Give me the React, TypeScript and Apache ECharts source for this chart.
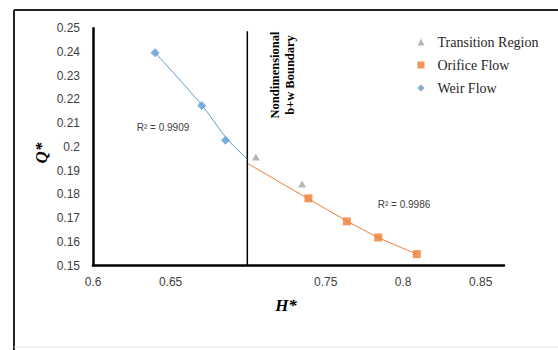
import React, { useEffect, useRef } from "react";
import * as echarts from "echarts";

const weirH = [0.64, 0.6701, 0.6854];
const weirQ = [0.2397, 0.2175, 0.2028];
const transH = [0.705, 0.7348];
const transQ = [0.1957, 0.1844];
const orificeH = [0.7389, 0.7637, 0.7839, 0.8088];
const orificeQ = [0.1783, 0.1686, 0.1618, 0.1548];
const weirTrendH = [0.64, 0.6701, 0.686, 0.6995];
const weirTrendQ = [0.2397, 0.2177, 0.2037, 0.1949];
const orificeTrendH = [0.6995, 0.7389, 0.7637, 0.7839, 0.8088];
const orificeTrendQ = [0.1931, 0.1781, 0.1688, 0.1618, 0.1548];
const boundaryH = [0.6995, 0.6995];
const boundaryQ = [0.15, 0.2488];
const legendNames = ["Transition Region", "Orifice Flow", "Weir Flow"];
const r2Labels = ["R² = 0.9909", "R² = 0.9986"];
const hiddenXTicks = [0.7];

const zip = (a: number[], b: number[]) => a.map((v, i) => [v, b[i]]);

const BLUE = "#5B9BD5";
const ORANGE = "#ED7D31";
const GRAY = "#A5A5A5";
const SANS = "'Liberation Sans', Arial, sans-serif";
const SERIF = "'Liberation Serif', 'Times New Roman', serif";

export default function App() {
  const ref = useRef<HTMLDivElement>(null);
  useEffect(() => {
    if (!ref.current) return;
    const chart = echarts.init(ref.current, null, { renderer: "svg" });
    chart.setOption({
      animation: false,
      backgroundColor: "#ffffff",
      grid: { left: 93, right: 54, top: 28.3, bottom: 84.5, containLabel: false },
      xAxis: {
        type: "value",
        min: 0.6,
        max: 0.865,
        interval: 0.05,
        splitLine: { show: false },
        axisTick: { show: false },
        axisLine: { show: true, lineStyle: { color: "#000", width: 2.5 } },
        axisLabel: {
          margin: 10,
          color: "#404040",
          fontFamily: SANS,
          fontSize: 12,
          showMaxLabel: false,
          formatter: (v: number) => {
            const r = Math.round(v * 100) / 100;
            if (hiddenXTicks.some((h) => Math.abs(h - r) < 1e-6)) return "";
            if (v > 0.851) return "";
            return String(r);
          },
        },
      },
      yAxis: {
        type: "value",
        min: 0.15,
        max: 0.25,
        interval: 0.01,
        splitLine: { show: false },
        axisTick: { show: false },
        axisLine: { show: true, lineStyle: { color: "#000", width: 2.5 } },
        axisLabel: {
          margin: 13,
          color: "#404040",
          fontFamily: SANS,
          fontSize: 12,
          formatter: (v: number) => String(Math.round(v * 100) / 100),
        },
      },
      legend: {
        orient: "vertical",
        left: 412.5,
        top: 30,
        itemWidth: 7,
        itemHeight: 7,
        itemGap: 9,
        textStyle: {
          fontFamily: SERIF,
          fontSize: 14,
          color: "#262626",
          padding: [0, 0, 0, 8],
        },
        data: [
          { name: legendNames[0], icon: "triangle" },
          { name: legendNames[1], icon: "rect" },
          { name: legendNames[2], icon: "diamond" },
        ],
      },
      series: [
        {
          name: "weirTrend",
          type: "line",
          data: zip(weirTrendH, weirTrendQ),
          showSymbol: false,
          smooth: 0.3,
          lineStyle: { color: BLUE, width: 1 },
          z: 2,
        },
        {
          name: "orificeTrend",
          type: "line",
          data: zip(orificeTrendH, orificeTrendQ),
          showSymbol: false,
          smooth: 0.3,
          lineStyle: { color: ORANGE, width: 1 },
          z: 2,
        },
        {
          name: "boundary",
          type: "line",
          data: zip(boundaryH, boundaryQ),
          showSymbol: false,
          lineStyle: { color: "#000", width: 1.5 },
          z: 3,
        },
        {
          name: legendNames[0],
          type: "scatter",
          symbol: "triangle",
          symbolSize: [8, 7],
          itemStyle: { color: GRAY },
          data: zip(transH, transQ),
          z: 5,
        },
        {
          name: legendNames[1],
          type: "scatter",
          symbol: "rect",
          symbolSize: 8,
          itemStyle: { color: ORANGE },
          data: zip(orificeH, orificeQ),
          z: 5,
        },
        {
          name: legendNames[2],
          type: "scatter",
          symbol: "diamond",
          symbolSize: [9, 9],
          itemStyle: { color: BLUE },
          data: zip(weirH, weirQ),
          z: 5,
        },
      ],
      graphic: [
        { type: "line", shape: { x1: 14, y1: 10, x2: 558, y2: 10 }, style: { stroke: "#222", lineWidth: 2 } },
        { type: "line", shape: { x1: 14, y1: 10, x2: 14, y2: 350 }, style: { stroke: "#222", lineWidth: 2 } },
        { type: "line", shape: { x1: 14, y1: 347, x2: 558, y2: 347 }, style: { stroke: "#e6e6e6", lineWidth: 1 } },
        {
          type: "text",
          x: 41.7,
          y: 153,
          rotation: Math.PI / 2,
          style: {
            text: "Q*",
            fontFamily: SERIF,
            fontWeight: "bold",
            fontStyle: "italic",
            fontSize: 17,
            fill: "#000",
            align: "center",
            verticalAlign: "middle",
          },
        },
        {
          type: "text",
          x: 286,
          y: 305,
          style: {
            text: "H*",
            fontFamily: SERIF,
            fontWeight: "bold",
            fontStyle: "italic",
            fontSize: 17,
            fill: "#000",
            align: "center",
            verticalAlign: "middle",
          },
        },
        {
          type: "text",
          x: 282,
          y: 75,
          rotation: Math.PI / 2,
          style: {
            text: "Nondimensional\nb+w Boundary",
            fontFamily: SERIF,
            fontWeight: "bold",
            fontSize: 12.5,
            lineHeight: 15,
            fill: "#000",
            align: "center",
            verticalAlign: "middle",
          },
        },
        {
          type: "text",
          x: 163,
          y: 127,
          style: {
            text: r2Labels[0],
            fontFamily: SANS,
            fontSize: 10,
            fill: "#404040",
            align: "center",
            verticalAlign: "middle",
          },
        },
        {
          type: "text",
          x: 404,
          y: 204,
          style: {
            text: r2Labels[1],
            fontFamily: SANS,
            fontSize: 10,
            fill: "#404040",
            align: "center",
            verticalAlign: "middle",
          },
        },
      ],
    });
    return () => chart.dispose();
  }, []);
  return (
    <div
      ref={ref}
      style={{ position: "fixed", left: 0, top: 0, width: 558, height: 350, background: "#fff" }}
    />
  );
}
